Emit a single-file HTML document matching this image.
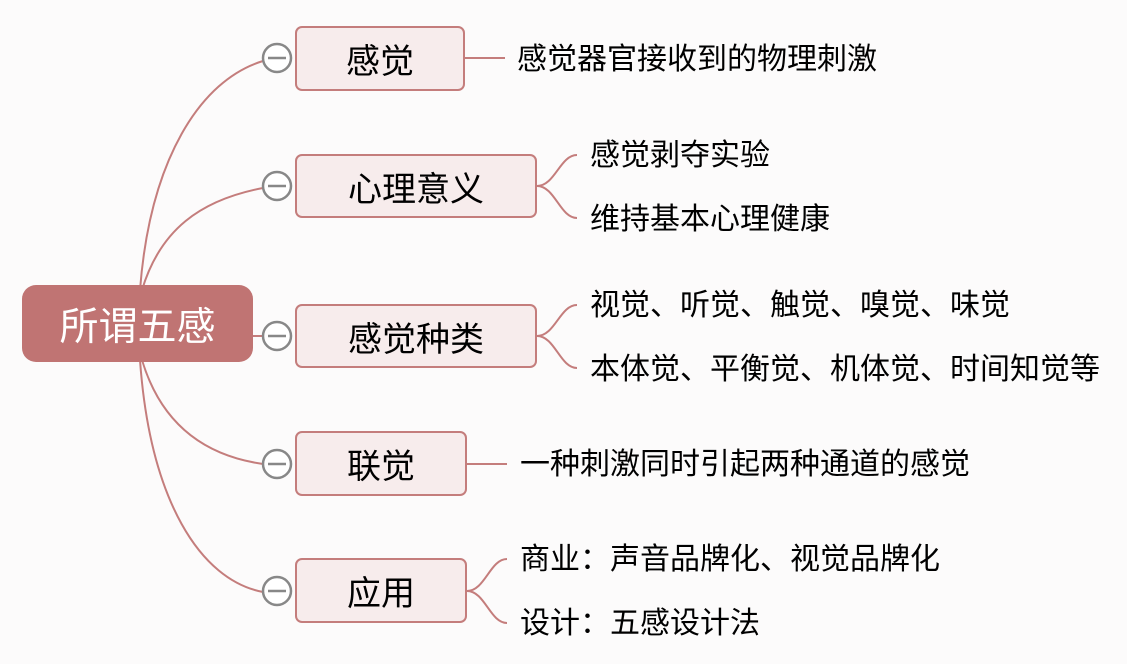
<!DOCTYPE html>
<html><head><meta charset="utf-8"><style>
body{margin:0;width:1127px;height:664px;background:#fcfbfb;position:relative;overflow:hidden;font-family:"Liberation Sans","Noto Sans CJK SC",sans-serif}
.b{position:absolute;box-sizing:border-box;border:2px solid #c47d7c;background:#f7ecec;border-radius:7px;display:flex;align-items:center;justify-content:center;font-size:34px;color:#000}
.t{position:absolute;font-size:30px;color:#000;line-height:32px;white-space:nowrap}
</style></head><body>
<svg width="1127" height="664" style="position:absolute;left:0;top:0">
<g fill="none" stroke="#c47d7c" stroke-width="2">
<path d="M140 290 C150 160 200 80 263 61"/>
<path d="M142 290 C160 230 200 200 263 188"/>
<path d="M253 336 L263 336"/>
<path d="M142 360 C160 420 200 455 263 464"/>
<path d="M140 360 C150 500 200 580 263 592"/>
<path d="M465 58 L505 58"/>
<path d="M537 186 C555 186 560 155 577 155"/>
<path d="M537 186 C555 186 560 218 577 218"/>
<path d="M537 336 C555 336 560 305 577 305"/>
<path d="M537 336 C555 336 560 368 577 368"/>
<path d="M467 464 L507 464"/>
<path d="M467 591 C485 591 490 559 507 559"/>
<path d="M467 591 C485 591 490 623 507 623"/>
</g>
<g fill="#fff" stroke="#888" stroke-width="2.5">
<circle cx="277" cy="58" r="14"/><circle cx="277" cy="186" r="14"/><circle cx="277" cy="336" r="14"/><circle cx="277" cy="464" r="14"/><circle cx="277" cy="591" r="14"/>
</g>
<g stroke="#888" stroke-width="2.5">
<path d="M268 58H286M268 186H286M268 336H286M268 464H286M268 591H286"/>
</g>
</svg>
<div class="b" style="left:22px;top:285px;width:231px;height:77px;background:#c07473;border:none;border-radius:14px;color:#fff;font-size:39px">所谓五感</div>
<div class="b" style="left:295px;top:26px;width:170px;height:65px">感觉</div>
<div class="b" style="left:295px;top:154px;width:242px;height:64px">心理意义</div>
<div class="b" style="left:295px;top:304px;width:242px;height:64px">感觉种类</div>
<div class="b" style="left:295px;top:431px;width:172px;height:65px">联觉</div>
<div class="b" style="left:295px;top:558px;width:172px;height:65px">应用</div>
<div class="t" style="left:517px;top:44px">感觉器官接收到的物理刺激</div>
<div class="t" style="left:590px;top:140px">感觉剥夺实验</div>
<div class="t" style="left:590px;top:204px">维持基本心理健康</div>
<div class="t" style="left:590px;top:290px">视觉、听觉、触觉、嗅觉、味觉</div>
<div class="t" style="left:590px;top:354px">本体觉、平衡觉、机体觉、时间知觉等</div>
<div class="t" style="left:520px;top:449px">一种刺激同时引起两种通道的感觉</div>
<div class="t" style="left:520px;top:544px">商业：声音品牌化、视觉品牌化</div>
<div class="t" style="left:520px;top:608px">设计：五感设计法</div>
</body></html>
